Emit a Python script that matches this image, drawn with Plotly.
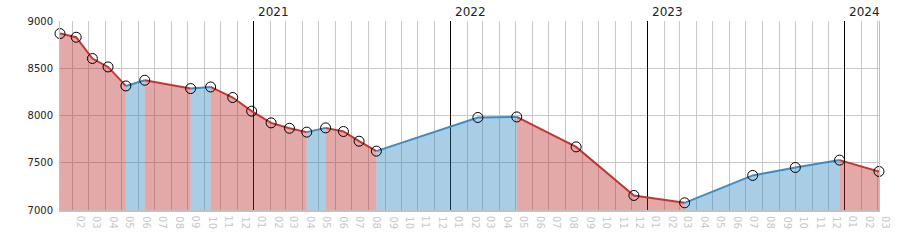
import plotly.graph_objects as go
import pandas as pd

dates = ["2020-01-08", "2020-02-07", "2020-03-08", "2020-04-06", "2020-05-09", "2020-06-13",
         "2020-09-06", "2020-10-13", "2020-11-23", "2020-12-28", "2021-02-02", "2021-03-08",
         "2021-04-09", "2021-05-14", "2021-06-16", "2021-07-15", "2021-08-16", "2022-02-20",
         "2022-05-03", "2022-08-21", "2022-12-06", "2023-03-10", "2023-07-14", "2023-10-01",
         "2023-12-22", "2024-03-04"]
values = [8867, 8828, 8603, 8514, 8313, 8373, 8285, 8302, 8190, 8046, 7922, 7865,
          7824, 7869, 7831, 7728, 7623, 7979, 7985, 7668, 7154, 7076, 7366, 7450,
          7528, 7408]
y_ticks = [7000, 7500, 8000, 8500, 9000]
years = ["2021", "2022", "2023", "2024"]

RED_LINE = "#c83333"
BLUE_LINE = "#3a8dc6"
RED_FILL = "rgba(185,37,37,0.4)"
BLUE_FILL = "rgba(37,130,187,0.4)"

fig = go.Figure()

# invisible trace so the year-grid overlay axis is drawn
fig.add_trace(go.Scatter(x=[dates[0]], y=[None], xaxis="x2", mode="lines",
                         showlegend=False, hoverinfo="skip"))

# group segments into runs of same direction
runs = []
start = 0
cur = values[1] > values[0]
for i in range(1, len(values) - 1):
    d = values[i + 1] > values[i]
    if d != cur:
        runs.append((start, i, cur))
        start = i
        cur = d
runs.append((start, len(values) - 1, cur))

for s, e, up in runs:
    fig.add_trace(go.Scatter(
        x=dates[s:e + 1], y=values[s:e + 1], mode="lines",
        line=dict(color=BLUE_LINE if up else RED_LINE, width=2),
        fill="tozeroy", fillcolor=BLUE_FILL if up else RED_FILL,
        hoverinfo="skip", showlegend=False))

fig.add_trace(go.Scatter(
    x=dates, y=values, mode="markers", cliponaxis=False,
    marker=dict(symbol="circle", size=10, color="rgba(0,0,0,0)",
                line=dict(color="black", width=1)),
    showlegend=False))

# year labels
for yr in years:
    fig.add_annotation(x=f"{yr}-01-01", y=1, xref="x", yref="paper", text=yr,
                       showarrow=False, xanchor="left", yanchor="bottom", xshift=2, yshift=0,
                       font=dict(family="DejaVu Sans", size=12, color="#222"))

# month labels, centred in each month (anchored at month start, shifted half a month)
months = pd.date_range("2020-02-01", "2024-03-01", freq="MS")
for m in months:
    fig.add_annotation(x=m.strftime("%Y-%m-%d"), y=0, xref="x", yref="paper",
                       text=m.strftime("%m"), showarrow=False, textangle=90,
                       xanchor="center", yanchor="top", yshift=-4, xshift=8,
                       font=dict(family="DejaVu Sans", size=10, color="#c8c8c8"))

fig.update_layout(
    width=900, height=250,
    margin=dict(l=60, r=21, t=21, b=40),
    plot_bgcolor="white", paper_bgcolor="white",
    font=dict(family="DejaVu Sans", size=10, color="#333"),
    xaxis=dict(type="date", range=[dates[0], dates[-1]], tick0="2020-01-01", dtick="M1",
               showgrid=True, gridcolor="#c8c8c8", gridwidth=1, showticklabels=False,
               ticks="", showline=True, linecolor="#c0c0c0", linewidth=2, zeroline=False),
    xaxis2=dict(type="date", range=[dates[0], dates[-1]], overlaying="x", anchor="y",
                tick0="2021-01-01", dtick="M12", showgrid=True, gridcolor="black",
                gridwidth=1, showticklabels=False, ticks="", showline=False, zeroline=False),
    yaxis=dict(range=[7000, 9000], tickvals=y_ticks, showgrid=True, gridcolor="#c8c8c8",
               ticks="", showline=True, linecolor="#c0c0c0", linewidth=1, mirror=True,
               zeroline=False, ticklabelstandoff=4, tickfont=dict(size=10, color="#222")),
)

fig.write_html("out.html")
